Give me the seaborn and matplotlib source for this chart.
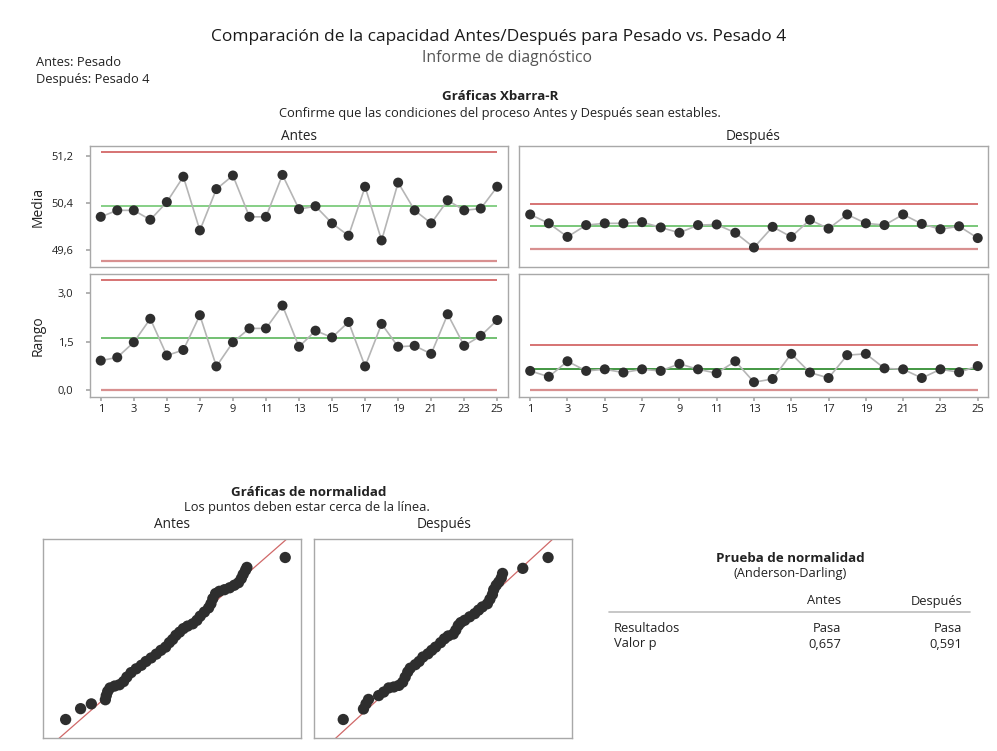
import numpy as np
import pandas as pd
import matplotlib
matplotlib.use("Agg")
import matplotlib.pyplot as plt
from matplotlib.lines import Line2D
from matplotlib.ticker import FuncFormatter
import seaborn as sns

# subgrupos
subgrupo = list(range(1, 26))

# medias de subgrupo (Xbarra)
media_antes = [50.17, 50.28, 50.28, 50.12, 50.42, 50.85, 49.94, 50.64, 50.87, 50.17,
               50.17, 50.88, 50.30, 50.35, 50.06, 49.85, 50.68, 49.77, 50.75, 50.28,
               50.06, 50.45, 50.28, 50.31, 50.68]
media_despues = [50.21, 50.06, 49.83, 50.03, 50.06, 50.06, 50.08, 49.99, 49.90, 50.03,
                 50.04, 49.90, 49.65, 50.00, 49.83, 50.12, 49.97, 50.21, 50.06, 50.03,
                 50.21, 50.05, 49.96, 50.01, 49.81]

# rangos de subgrupo
rango_antes = [0.91, 1.01, 1.48, 2.21, 1.07, 1.24, 2.32, 0.73, 1.48, 1.91,
               1.91, 2.62, 1.34, 1.84, 1.63, 2.11, 0.73, 2.05, 1.34, 1.37,
               1.12, 2.35, 1.37, 1.68, 2.17]
rango_despues = [0.59, 0.41, 0.89, 0.59, 0.64, 0.54, 0.64, 0.59, 0.81, 0.64,
                 0.52, 0.89, 0.24, 0.34, 1.12, 0.54, 0.37, 1.08, 1.12, 0.67,
                 0.64, 0.37, 0.64, 0.55, 0.74]

# limites de control: LCI, LC, LCS
lim_media_antes = [49.43, 50.35, 51.26]
lim_media_despues = [49.63, 50.01, 50.39]
lim_rango_antes = [0.0, 1.60, 3.41]
lim_rango_despues = [0.0, 0.64, 1.41]

# graficas de probabilidad normal (valor, puntuacion normal)
prob_antes_valor = [48.05, 48.37, 48.60, 48.90, 48.92, 48.95, 49.00, 49.10, 49.20, 49.29,
                    49.36, 49.45, 49.56, 49.67, 49.77, 49.88, 49.99, 50.09, 50.19, 50.27,
                    50.34, 50.41, 50.49, 50.57, 50.66, 50.77, 50.86, 50.93, 51.02, 51.11,
                    51.16, 51.20, 51.26, 51.34, 51.45, 51.56, 51.66, 51.75, 51.81, 51.85,
                    51.90, 51.93, 52.75]
prob_antes_z = [-2.54, -2.20, -2.05, -1.92, -1.79, -1.66, -1.55, -1.49, -1.45, -1.35,
                -1.21, -1.07, -0.95, -0.84, -0.72, -0.61, -0.49, -0.37, -0.27, -0.13,
                -0.03, 0.10, 0.20, 0.31, 0.39, 0.46, 0.57, 0.70, 0.83, 0.96,
                1.09, 1.25, 1.41, 1.48, 1.53, 1.59, 1.67, 1.75, 1.88, 2.01,
                2.14, 2.23, 2.54]
prob_despues_valor = [49.21, 49.37, 49.39, 49.41, 49.49, 49.53, 49.57, 49.61, 49.65, 49.68,
                      49.70, 49.72, 49.74, 49.78, 49.81, 49.84, 49.88, 49.91, 49.94, 49.98,
                      50.01, 50.04, 50.08, 50.10, 50.12, 50.14, 50.17, 50.21, 50.25, 50.28,
                      50.31, 50.35, 50.37, 50.39, 50.40, 50.42, 50.44, 50.46, 50.47, 50.63,
                      50.83]
prob_despues_z = [-2.54, -2.21, -2.05, -1.91, -1.79, -1.68, -1.55, -1.52, -1.47, -1.37,
                  -1.21, -1.05, -0.93, -0.82, -0.72, -0.58, -0.48, -0.37, -0.27, -0.13,
                  -0.01, 0.08, 0.14, 0.26, 0.41, 0.50, 0.57, 0.68, 0.78, 0.89,
                  0.99, 1.09, 1.23, 1.38, 1.53, 1.67, 1.77, 1.90, 2.04, 2.20,
                  2.54]
# ajuste normal: media, desviacion estandar
ajuste_antes = (50.35, 0.78)
ajuste_despues = (50.01, 0.275)

# tabla Anderson-Darling
tabla_columnas = ["Antes", "Después"]
tabla_filas = ["Resultados", "Valor p"]
tabla_valores = [["Pasa", "Pasa"], ["0,657", "0,591"]]

sns.set_theme(style="white")
plt.rcParams["font.family"] = ["Open Sans", "DejaVu Sans"]

W, H = 997, 751
fig = plt.figure(figsize=(W / 100, H / 100), dpi=100)


def box(x0, y0, x1, y1):
    # pixel box (from top-left) -> figure fraction rect
    return [x0 / W, 1 - y1 / H, (x1 - x0) / W, (y1 - y0) / H]


def txt(x, y, s, **kw):
    kw.setdefault("ha", "center")
    kw.setdefault("va", "center")
    kw.setdefault("color", "#222222")
    fig.text(x / W, 1 - y / H, s, **kw)


coma = FuncFormatter(lambda v, p: f"{v:.1f}".replace(".", ","))
gris = "#a8a8a8"


def control(ax, valores, lims, cl_color, ylim, yticks=None, xlabels=False):
    df = pd.DataFrame({"sub": subgrupo, "v": valores})
    sns.lineplot(data=df, x="sub", y="v", ax=ax, color="#b5b5b5", lw=1.2)
    sns.scatterplot(data=df, x="sub", y="v", ax=ax, color="#2e2e2e", s=52,
                    edgecolor="none", zorder=3)
    ax.hlines(lims[2], 1, 25, color="#cf5b5b", lw=1.2, zorder=1)
    ax.hlines(lims[0], 1, 25, color="#d89090", lw=1.6, zorder=1)
    ax.hlines(lims[1], 1, 25, color=cl_color, lw=1.1, zorder=1)
    ax.set_xlim(0.35, 25.65)
    ax.set_ylim(*ylim)
    ax.set_xlabel("")
    ax.set_ylabel("")
    for sp in ax.spines.values():
        sp.set_color(gris)
        sp.set_linewidth(1)
    if yticks is not None:
        ax.set_yticks(yticks)
        ax.yaxis.set_major_formatter(coma)
        ax.tick_params(axis="y", left=True, length=3, color=gris,
                       labelsize=8, pad=9, labelcolor="#222222")
    else:
        ax.set_yticks([])
    if xlabels:
        ax.set_xticks(subgrupo[::2])
        ax.tick_params(axis="x", bottom=True, length=3, color=gris,
                       labelsize=8, pad=2, labelcolor="#222222")
    else:
        ax.set_xticks([])


ylim_media = (49.32, 51.37)
ylim_rango = (-0.22, 3.60)

ax1 = fig.add_axes(box(90, 146, 508, 267))
control(ax1, media_antes, lim_media_antes, "#66c266", ylim_media, [49.6, 50.4, 51.2])
ax1.set_ylabel("Media", fontsize=10, color="#222222")
ax1.yaxis.set_label_coords(-0.107, 0.5)

ax2 = fig.add_axes(box(519, 146, 988, 267))
control(ax2, media_despues, lim_media_despues, "#55b855", ylim_media)
ax2.set_xlim(0.4, 25.55)

ax3 = fig.add_axes(box(90, 274, 508, 397))
control(ax3, rango_antes, lim_rango_antes, "#4caf4c", ylim_rango, [0.0, 1.5, 3.0], True)
ax3.set_ylabel("Rango", fontsize=10, color="#222222")
ax3.yaxis.set_label_coords(-0.107, 0.5)

ax4 = fig.add_axes(box(519, 274, 988, 397))
control(ax4, rango_despues, lim_rango_despues, "#107a10", ylim_rango, None, True)
ax4.set_xlim(0.4, 25.55)


def normal(ax, valores, zs, ajuste, ulim):
    mu, sd = ajuste
    df = pd.DataFrame({"valor": valores, "z": zs})
    x0, x1 = mu + sd * ulim[0], mu + sd * ulim[1]
    linea = pd.DataFrame({"valor": [x0, x1], "z": [(x0 - mu) / sd, (x1 - mu) / sd]})
    sns.lineplot(data=linea, x="valor", y="z", ax=ax, color="#d06868", lw=0.9)
    sns.scatterplot(data=df, x="valor", y="z", ax=ax, color="#2e2e2e", s=66,
                    edgecolor="none", zorder=3)
    ax.set_xlim(x0, x1)
    ax.set_ylim(-3.12, 3.12)
    ax.set_xticks([])
    ax.set_yticks([])
    ax.set_xlabel("")
    ax.set_ylabel("")
    for sp in ax.spines.values():
        sp.set_color(gris)
        sp.set_linewidth(1)


ax5 = fig.add_axes(box(43, 539, 301, 738))
normal(ax5, prob_antes_valor, prob_antes_z, ajuste_antes, (-3.57, 3.51))
ax6 = fig.add_axes(box(314, 539, 572, 738))
normal(ax6, prob_despues_valor, prob_despues_z, ajuste_despues, (-3.75, 3.67))

# textos del encabezado
txt(499, 37, "Comparación de la capacidad Antes/Después para Pesado vs. Pesado 4",
    fontsize=12.5, color="#1a1a1a")
txt(507, 58, "Informe de diagnóstico", fontsize=11.3, color="#555555")
txt(36, 62, "Antes: Pesado", fontsize=9.3, ha="left")
txt(36, 80, "Después: Pesado 4", fontsize=9.3, ha="left")
txt(500, 97, "Gráficas Xbarra-R", fontsize=9.6, fontweight="bold")
txt(500, 114, "Confirme que las condiciones del proceso Antes y Después sean estables.",
    fontsize=9.3)
txt(299, 137, "Antes", fontsize=9.8)
txt(753, 137, "Después", fontsize=9.8)

txt(309, 492, "Gráficas de normalidad", fontsize=9.6, fontweight="bold")
txt(307, 508, "Los puntos deben estar cerca de la línea.", fontsize=9.3)
txt(172, 525, "Antes", fontsize=9.8)
txt(444, 525, "Después", fontsize=9.8)

# tabla de prueba de normalidad
txt(790, 558, "Prueba de normalidad", fontsize=9.6, fontweight="bold")
txt(790, 574, "(Anderson-Darling)", fontsize=9.3)
col_x = [841, 962]
for cx, c in zip(col_x, tabla_columnas):
    txt(cx, 601, c, fontsize=9.3, ha="right")
fig.add_artist(Line2D([609 / W, 970 / W], [1 - 612 / H, 1 - 612 / H],
                      color="#bdbdbd", lw=1.2))
for i, fila in enumerate(tabla_filas):
    y = 628 + i * 16
    txt(614, y, fila, fontsize=9.3, ha="left")
    for cx, v in zip(col_x, tabla_valores[i]):
        txt(cx, y, v, fontsize=9.3, ha="right")

fig.savefig("out.png", dpi=100)
